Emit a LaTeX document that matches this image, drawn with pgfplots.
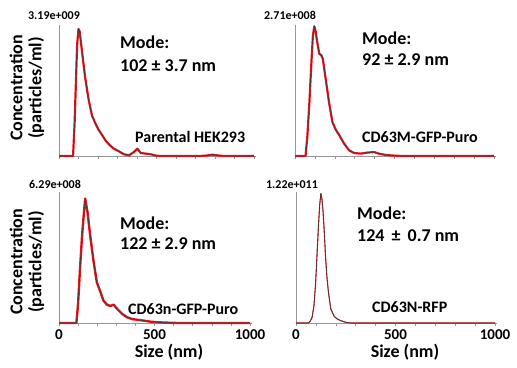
\documentclass[border=0pt]{standalone}
\usepackage{fontspec}
\setmainfont{Carlito}
\usepackage{pgfplots}
\usepackage{pgfplotstable}
\pgfplotsset{compat=1.18}
\definecolor{bandred}{RGB}{228,22,28}
\definecolor{axgray}{RGB}{150,150,150}
\definecolor{linegray}{RGB}{60,60,60}

\pgfplotstableread{
x y
0 0
72 0
80 0.25
86 0.53
93 0.85
100 0.97
106 0.95
117 0.81
134 0.60
152 0.43
169 0.31
186 0.25
203 0.20
221 0.16
238 0.12
255 0.09
281 0.056
307 0.036
333 0.013
359 0.005
384 0.03
402 0.056
419 0.023
445 0.018
471 0.013
497 0.003
520 0
720 0
760 0.004
786 0.01
815 0.004
850 0
1000 0
}\dataA

\pgfplotstableread{
x y
0 0
53 0
62 0.15
72 0.40
83 0.73
90 0.92
97 0.99
104 0.95
110 0.885
122 0.78
132 0.77
140 0.74
155 0.58
172 0.40
188 0.26
205 0.20
222 0.16
247 0.094
272 0.043
297 0.023
330 0.018
363 0.026
397 0.03
422 0.018
455 0.008
497 0.003
540 0
1000 0
}\dataB

\pgfplotstableread{
x y
0 0
91 0
100 0.15
110 0.415
120 0.65
128 0.80
137 0.95
149 0.85
163 0.67
181 0.47
198 0.31
216 0.24
233 0.17
251 0.14
268 0.13
286 0.14
303 0.11
330 0.07
356 0.044
382 0.03
418 0.023
444 0.018
479 0.01
523 0.005
575 0.002
620 0
1000 0
}\dataC

\pgfplotstableread{
x y
0 0
62 0
72 0.015
81 0.043
90 0.13
98 0.29
105 0.50
112 0.72
119 0.90
125 0.99
131 0.94
136 0.85
143 0.67
149 0.49
156 0.34
163 0.235
175 0.107
192 0.05
208 0.03
225 0.018
251 0.005
276 0
1000 0
}\dataD

\pgfplotsset{panel/.style={
  scale only axis, height=131pt,
  xmin=0, xmax=1010, ymin=0, ymax=1,
  axis x line=bottom, axis y line=left,
  axis line style={axgray, -, line width=0.8pt},
  ytick=\empty, xtick={0,100,...,1000},
  tick align=outside, major tick length=3pt,
  tick style={axgray, line width=0.6pt},
  clip=false,
  /pgf/number format/assume math mode=true,
  ticklabel style={font=\fontsize{15}{15}\selectfont\bfseries},
  xticklabels={},
  anchor=south west,
}}
\tikzset{
  modefont/.style={font=\fontsize{18}{18}\selectfont\bfseries, anchor=base west, inner sep=0pt},
  condfont/.style={font=\fontsize{16}{16}\selectfont\bfseries, anchor=base west, inner sep=0pt},
  valfont/.style={font=\fontsize{12}{12}\selectfont\bfseries, anchor=base, inner sep=0pt},
  labfont/.style={font=\fontsize{18}{19}\selectfont\bfseries, align=center, inner sep=0pt},
}

\begin{document}
\begin{tikzpicture}
\path (0,0) rectangle (517pt,367pt);

% panel 1
\begin{axis}[panel, width=197pt, at={(59pt,211pt)}]
\addplot[bandred, line width=2.2pt, line join=round] table {\dataA};
\addplot[linegray, line width=0.6pt, line join=round] table {\dataA};
\end{axis}

% panel 2
\begin{axis}[panel, width=201pt, at={(295pt,211pt)}]
\addplot[bandred, line width=2.2pt, line join=round] table {\dataB};
\addplot[linegray, line width=0.6pt, line join=round] table {\dataB};
\end{axis}

% panel 3
\begin{axis}[panel, width=193pt, at={(59pt,44pt)}, xticklabels={0,,,,,500,,,,,1000}]
\addplot[bandred, line width=2.4pt, line join=round] table {\dataC};
\addplot[linegray, line width=0.6pt, line join=round] table {\dataC};
\end{axis}

% panel 4
\begin{axis}[panel, width=201pt, at={(296pt,44pt)}, xticklabels={0,,,,,500,,,,,1000}]
\addplot[bandred, line width=1.1pt, line join=round] table {\dataD};
\addplot[linegray, line width=0.6pt, line join=round] table {\dataD};
\end{axis}

% value labels
\node[valfont] at (54pt,347pt) {3.19e+009};
\node[valfont] at (290pt,347pt) {2.71e+008};
\node[valfont] at (55pt,178pt) {6.29e+008};
\node[valfont] at (292pt,178pt) {1.22e+011};

% mode labels
\node[modefont] at (120pt,318pt) {Mode:};
\node[modefont] at (120pt,295pt) {102 ± 3.7 nm};
\node[modefont] at (362pt,322pt) {Mode:};
\node[modefont] at (362pt,301pt) {92 ± 2.9 nm};
\node[modefont] at (120pt,137pt) {Mode:};
\node[modefont] at (120pt,117pt) {122 ± 2.9 nm};
\node[modefont] at (357pt,147pt) {Mode:};
\node[modefont] at (357pt,125pt) {124 \,±\, 0.7 nm};

% condition labels
\node[condfont] at (135pt,224pt) {Parental HEK293};
\node[condfont] at (362pt,224pt) {CD63M-GFP-Puro};
\node[condfont] at (128pt,52pt) {CD63n-GFP-Puro};
\node[condfont] at (372pt,54pt) {CD63N-RFP};

% axis labels
\node[labfont, rotate=90] at (27pt,279pt) {Concentration\\(particles/ml)};
\node[labfont, rotate=90] at (27pt,105pt) {Concentration\\(particles/ml)};
\node[labfont] at (169pt,15pt) {Size (nm)};
\node[labfont] at (405pt,15pt) {Size (nm)};
\end{tikzpicture}
\end{document}
